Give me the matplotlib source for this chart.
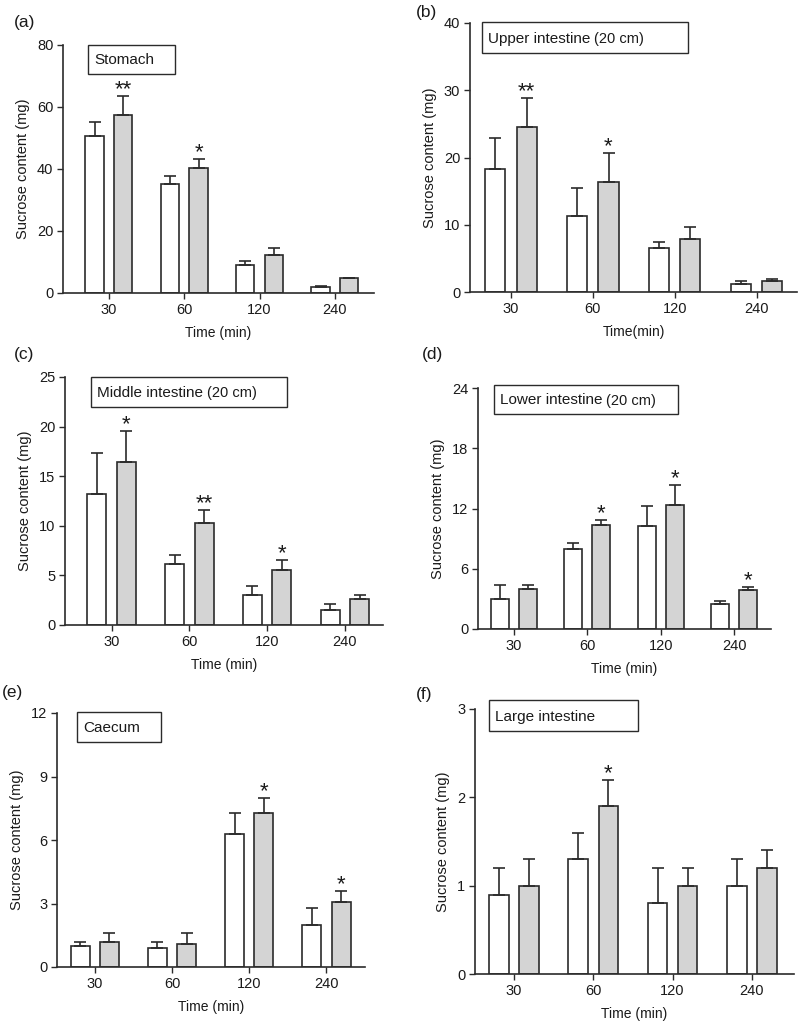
import numpy as np
import matplotlib
matplotlib.use('Agg')
import matplotlib.pyplot as plt
from matplotlib.patches import Rectangle

plt.rcParams['font.family'] = ['Liberation Sans', 'DejaVu Sans']

times = ['30', '60', '120', '240']

# (a) stomach
a_white = [50.8, 35.3, 9.1, 1.8]
a_white_err = [4.4, 2.3, 1.2, 0.6]
a_gray = [57.4, 40.3, 12.2, 4.8]
a_gray_err = [6.3, 3.0, 2.4, 0.0]
a_stars = ['**', '*', '', '']

# (b) upper intestine
b_white = [18.3, 11.3, 6.5, 1.2]
b_white_err = [4.6, 4.1, 0.9, 0.4]
b_gray = [24.6, 16.4, 7.9, 1.7]
b_gray_err = [4.2, 4.2, 1.7, 0.3]
b_stars = ['**', '*', '', '']

# (c) middle intestine
c_white = [13.2, 6.1, 3.05, 1.55]
c_white_err = [4.1, 1.0, 0.9, 0.6]
c_gray = [16.4, 10.3, 5.5, 2.65]
c_gray_err = [3.2, 1.3, 1.1, 0.4]
c_stars = ['*', '**', '*', '']

# (d) lower intestine
d_white = [3.0, 8.0, 10.3, 2.5]
d_white_err = [1.4, 0.6, 1.9, 0.25]
d_gray = [4.0, 10.35, 12.3, 3.9]
d_gray_err = [0.4, 0.55, 2.0, 0.3]
d_stars = ['', '*', '*', '*']

# (e) caecum
e_white = [1.0, 0.88, 6.28, 2.0]
e_white_err = [0.2, 0.3, 1.0, 0.78]
e_gray = [1.18, 1.08, 7.29, 3.08]
e_gray_err = [0.41, 0.51, 0.71, 0.5]
e_stars = ['', '', '*', '*']

# (f) large intestine
f_white = [0.9, 1.3, 0.8, 1.0]
f_white_err = [0.3, 0.3, 0.4, 0.3]
f_gray = [1.0, 1.9, 1.0, 1.2]
f_gray_err = [0.3, 0.3, 0.2, 0.2]
f_stars = ['', '*', '', '']

W, H = 798, 1024
fig = plt.figure(figsize=(W / 100, H / 100), dpi=100)
renderer = fig.canvas.get_renderer()

EDGE = '#2b2b2b'
GRAY = '#d4d4d4'
TXT = '#1a1a1a'


def px_axes(l, t, r, b):
    return fig.add_axes([l / W, 1 - b / H, (r - l) / W, (b - t) / H])


def panel(box, xlim, ymax, yticks, white, werr, gray, gerr, stars,
          title, sub, tbox, letter, lpos, xlabel='Time (min)'):
    ax = px_axes(*box)
    x = np.arange(len(times))
    off, bw = 0.19, 0.245
    ekw = dict(ecolor=EDGE, elinewidth=1.2, capsize=4.5, capthick=1.2)
    ax.bar(x - off, white, bw, color='white', edgecolor=EDGE, linewidth=1.2,
           yerr=[np.zeros(4), werr], error_kw=ekw)
    ax.bar(x + off, gray, bw, color=GRAY, edgecolor=EDGE, linewidth=1.2,
           yerr=[np.zeros(4), gerr], error_kw=ekw)
    for xi, g, e, s in zip(x, gray, gerr, stars):
        if s:
            ax.annotate(s, (xi + off, g + e), xytext=(0, -3), textcoords='offset points',
                        ha='center', va='bottom', fontsize=16, color=TXT)
    ax.set_xlim(*xlim)
    ax.set_ylim(0, ymax)
    ax.set_yticks(yticks)
    ax.set_xticks(x)
    ax.set_xticklabels(times)
    for s in ['top', 'right']:
        ax.spines[s].set_visible(False)
    for s in ['left', 'bottom']:
        ax.spines[s].set_color(EDGE)
        ax.spines[s].set_linewidth(1.2)
    ax.tick_params(direction='out', length=4, width=1.0, color=EDGE,
                   labelsize=10.5, pad=3, labelcolor=TXT)
    ax.set_xlabel(xlabel, fontsize=10, labelpad=7, color=TXT)
    ax.set_ylabel('Sucrose content (mg)', fontsize=10.5, labelpad=5, color=TXT)

    bl, bt, br, bb = tbox
    fig.patches.append(Rectangle((bl / W, 1 - bb / H), (br - bl) / W, (bb - bt) / H,
                                 transform=fig.transFigure, facecolor='white',
                                 edgecolor=EDGE, linewidth=1.0))
    base = 1 - ((bt + bb) / 2 + 5) / H
    t = fig.text((bl + 6) / W, base, title, fontsize=11,
                 ha='left', va='baseline', color=TXT)
    if sub:
        ext = t.get_window_extent(renderer)
        fig.text((ext.x1 + 4) / W, base, sub, fontsize=10.5,
                 ha='left', va='baseline', color=TXT)
    fig.text(lpos[0] / W, 1 - lpos[1] / H, letter, fontsize=12.5,
             ha='left', va='center', color=TXT)
    return ax


panel((63, 45, 374, 293), (-0.61, 3.52), 80, [0, 20, 40, 60, 80],
      a_white, a_white_err, a_gray, a_gray_err, a_stars,
      'Stomach', '', (88, 45, 175, 74), '(a)', (14, 23))
panel((470, 23, 797, 292), (-0.5, 3.49), 40, [0, 10, 20, 30, 40],
      b_white, b_white_err, b_gray, b_gray_err, b_stars,
      'Upper intestine', '(20 cm)', (482, 22, 688, 53), '(b)', (416, 13),
      xlabel='Time(min)')
panel((65, 377, 383, 625), (-0.6, 3.49), 25, [0, 5, 10, 15, 20, 25],
      c_white, c_white_err, c_gray, c_gray_err, c_stars,
      'Middle intestine', '(20 cm)', (91, 377, 287, 407), '(c)', (14, 355))
panel((478, 388, 771, 629), (-0.49, 3.5), 24, [0, 6, 12, 18, 24],
      d_white, d_white_err, d_gray, d_gray_err, d_stars,
      'Lower intestine', '(20 cm)', (494, 385, 678, 414), '(d)', (422, 355))
panel((57, 713, 365, 967), (-0.49, 3.5), 12, [0, 3, 6, 9, 12],
      e_white, e_white_err, e_gray, e_gray_err, e_stars,
      'Caecum', '', (77, 712, 161, 742), '(e)', (2, 693))
panel((475, 709, 794, 974), (-0.49, 3.53), 3, [0, 1, 2, 3],
      f_white, f_white_err, f_gray, f_gray_err, f_stars,
      'Large intestine', '', (489, 700, 638, 731), '(f)', (416, 695))

fig.savefig('out.png', dpi=100, facecolor='white')
